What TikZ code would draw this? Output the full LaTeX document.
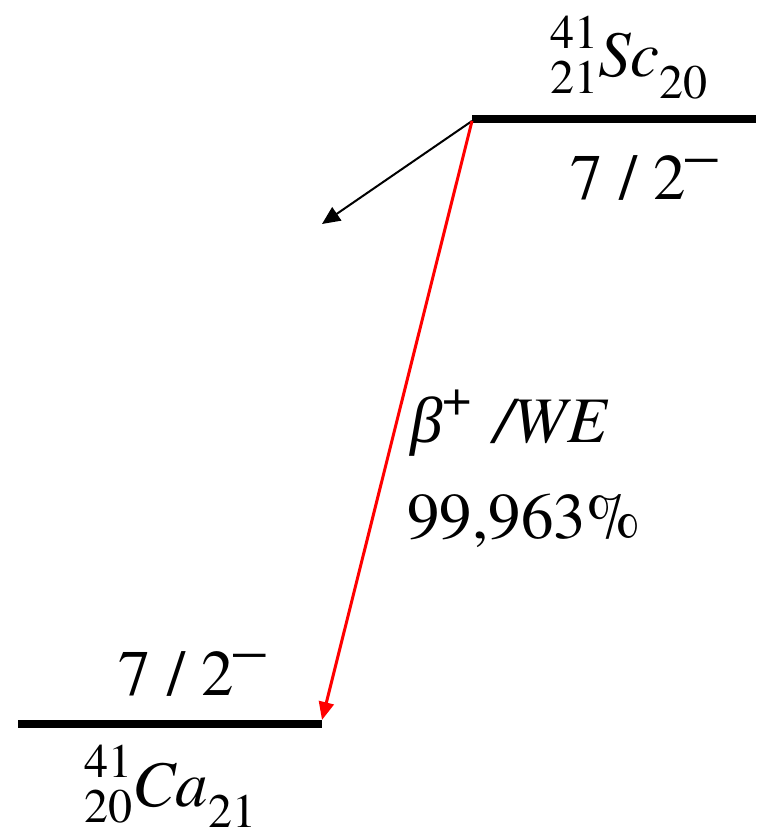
\documentclass[tikz,border=0pt]{standalone}
\usepackage{fontspec}
\setmainfont{texgyretermes}[Extension=.otf, UprightFont=*-regular, ItalicFont=*-italic]
\newfontfamily\greek{Liberation Serif}
\usetikzlibrary{arrows.meta}
\newcommand{\scr}{\fontsize{24}{24}\selectfont}
\newcommand{\nuclide}[4]{\raisebox{.44em}{\scr#1}\llap{\raisebox{-.25em}{\scr#2}}\textit{#3}\raisebox{-.33em}{\scr#4}}
\newcommand{\spin}[1]{#1 / 2\raisebox{.38em}{–}}

\begin{document}
\begin{tikzpicture}[x=0.5pt, y=-0.5pt, font=\fontsize{32.5}{39}\selectfont,
  level/.style={line width=4.2pt},
  lbl/.style={anchor=base west, inner sep=0pt},
  gamma/.style={line width=1pt, -{Triangle[length=9pt, width=8pt]}},
  decay/.style={red, line width=1.5pt, -{Triangle[length=9pt, width=7.5pt]}}]
\useasboundingbox (0,0) rectangle (756,838);
\coordinate (sc-l) at (472,119);
\coordinate (sc-r) at (756,119);
\coordinate (ca-l) at (18,724);
\coordinate (ca-r) at (322,724);
\coordinate (gam) at (322,224);
\draw[level] (sc-l) -- (sc-r);
\draw[level] (ca-l) -- (ca-r);
\node[lbl] (sc) at (550,77) {\nuclide{41}{21}{Sc}{20}};
\node[lbl] (sc-spin) at (570,200) {\spin{7}};
\node[lbl] (ca-spin) at (118,695) {\spin{7}};
\node[lbl] (ca) at (84,806) {\nuclide{41}{20}{Ca}{21}};
\node[lbl] (mode) at (410,443) {{\greek\itshape β}\raisebox{.42em}{\fontsize{26}{26}\selectfont +}\hspace{.35em}\textit{/WE}};
\node[lbl] (ratio) at (407,538) {99,963\%};
\draw[gamma] ([yshift=-1pt]sc-l) -- (gam);
\draw[decay] ([yshift=-1pt]sc-l) -- ([yshift=2pt]ca-r);
\end{tikzpicture}
\end{document}
